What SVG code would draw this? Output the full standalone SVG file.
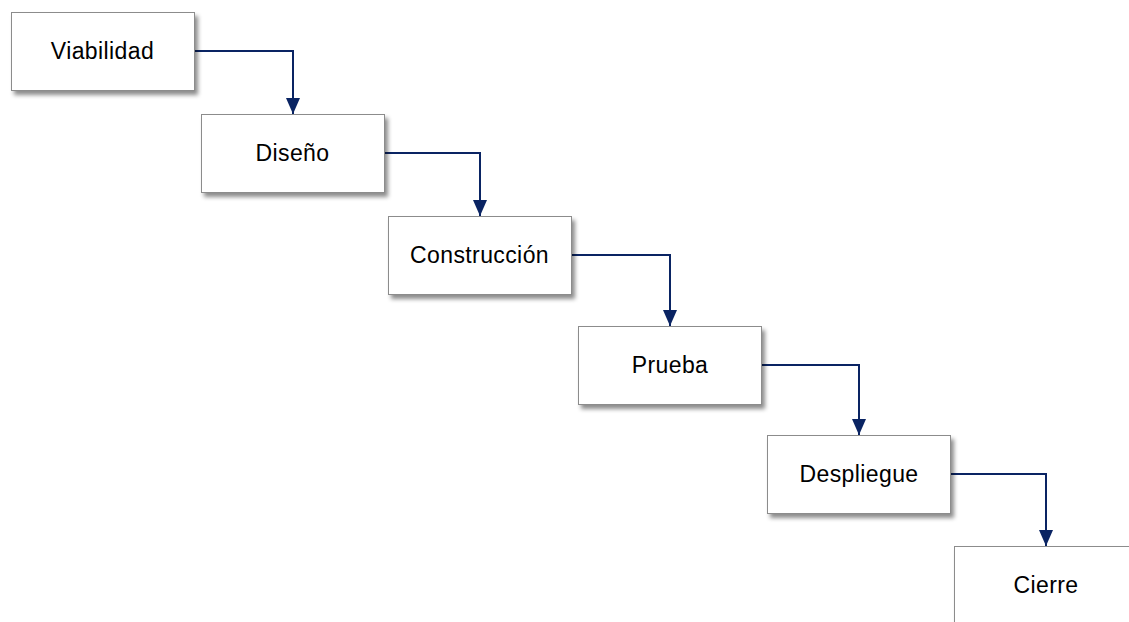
<svg xmlns="http://www.w3.org/2000/svg" width="1129" height="622" viewBox="0 0 1129 622">
  <defs>
    <filter id="shadow" x="-10%" y="-10%" width="130%" height="140%">
      <feDropShadow dx="3" dy="4" stdDeviation="2" flood-color="#000" flood-opacity="0.45"/>
    </filter>
    <marker id="arrow" viewBox="0 0 16 14" refX="16" refY="7" markerWidth="16" markerHeight="14" markerUnits="userSpaceOnUse" orient="auto">
      <path d="M0,0 L16,7 L0,14 Z" fill="#0a2463"/>
    </marker>
  </defs>
  <style>
    .box { fill: #ffffff; stroke: #8c8c8c; stroke-width: 1; filter: url(#shadow); }
    .label { font-family: "Liberation Sans", Arial, sans-serif; font-size: 23px; letter-spacing: 0.4px; fill: #000; text-anchor: middle; }
    .conn { fill: none; stroke: #0a2463; stroke-width: 2; marker-end: url(#arrow); }
  </style>
  <rect width="1129" height="622" fill="#ffffff"/>

  <g id="connectors">
    <path class="conn" d="M194,51 H293 V114"/>
    <path class="conn" d="M384,153 H480 V216"/>
    <path class="conn" d="M571,255 H670 V326"/>
    <path class="conn" d="M762,365 H859 V435"/>
    <path class="conn" d="M951,474 H1046 V546"/>
  </g>

  <g id="viabilidad">
    <rect class="box" x="11.5" y="12.5" width="183" height="78"/>
    <text class="label" x="102.5" y="59">Viabilidad</text>
  </g>
  <g id="diseno">
    <rect class="box" x="201.5" y="114.5" width="183" height="78"/>
    <text class="label" x="292.5" y="161">Diseño</text>
  </g>
  <g id="construccion">
    <rect class="box" x="388.5" y="216.5" width="183" height="78"/>
    <text class="label" x="479.5" y="263">Construcción</text>
  </g>
  <g id="prueba">
    <rect class="box" x="578.5" y="326.5" width="183" height="78"/>
    <text class="label" x="670" y="373">Prueba</text>
  </g>
  <g id="despliegue">
    <rect class="box" x="767.5" y="435.5" width="183" height="78"/>
    <text class="label" x="859" y="482">Despliegue</text>
  </g>
  <g id="cierre">
    <rect class="box" x="954.5" y="546.5" width="183" height="78"/>
    <text class="label" x="1046" y="593">Cierre</text>
  </g>
</svg>
